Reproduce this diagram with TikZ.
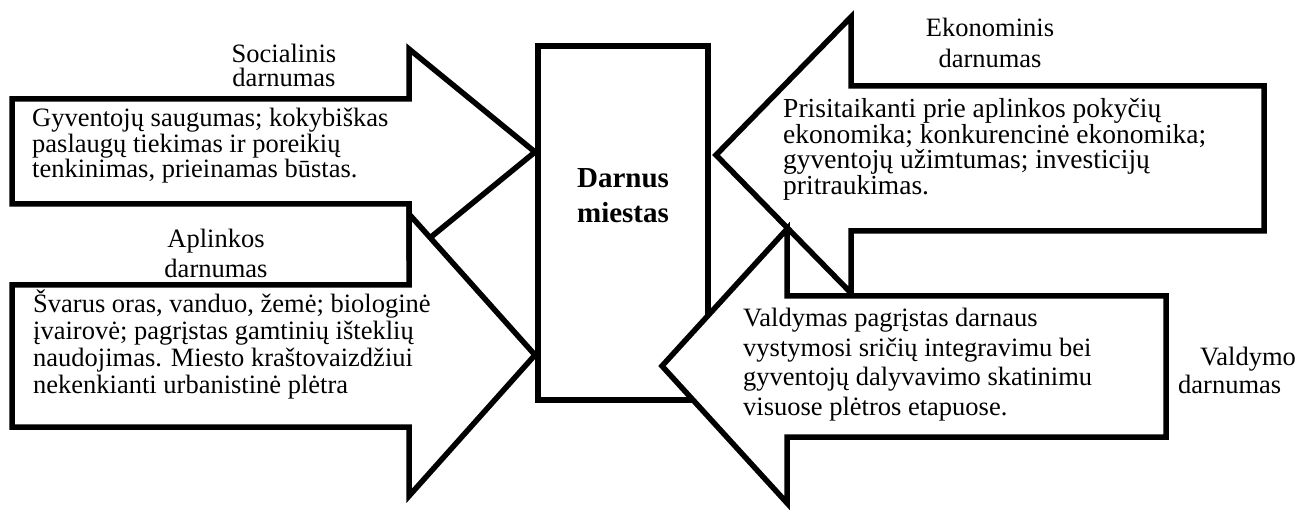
\documentclass[tikz,border=0pt]{standalone}
\usepackage{fontspec}
\setmainfont{Liberation Serif}
\newcommand\txtsize[1]{\fontsize{26.5}{#1}\selectfont}
\tikzset{
  outline/.style={draw=black, fill=white, line width=5.5pt, line join=miter},
  % multi-line texts are placed by the baseline of their last line
  bodytext/.style={anchor=base west, align=left, inner sep=0pt},
  headtext/.style={anchor=base, align=center, inner sep=0pt},
}
\begin{document}
\begin{tikzpicture}[x=1pt, y=-1pt]
\useasboundingbox (0,0) rectangle (1298,510);

% central box
\draw[outline] (538,46) rectangle (708,400);

% social sustainability arrow (pointing right)
\draw[outline] (12,99) -- (409,99) -- (409,49) -- (535,152) -- (409,255)
  -- (409,204) -- (12,204) -- cycle;
% environmental sustainability arrow (pointing right)
\draw[outline] (12,285) -- (409,285) -- (409,214) -- (535,355) -- (409,496)
  -- (409,427) -- (12,427) -- cycle;
% economic sustainability arrow (pointing left)
\draw[outline] (1264,86) -- (851,86) -- (851,17) -- (716,155) -- (851,293)
  -- (851,231) -- (1264,231) -- cycle;
% governance sustainability arrow (pointing left)
\draw[outline] (1166,296) -- (787,296) -- (787,229) -- (662,366) -- (787,503)
  -- (787,437) -- (1166,437) -- cycle;

% centre label
\node[headtext, font=\fontsize{29}{35}\selectfont\bfseries] (city) at (623,223)
  {Darnus\\miestas};

% titles
\node[headtext, font=\txtsize{24}] (soctitle) at (284,87) {Socialinis\\darnumas};
\node[headtext, font=\txtsize{30}] (envtitle) at (216,278) {Aplinkos\\darnumas};
\node[headtext, font=\txtsize{31}] (ecotitle) at (990,68) {Ekonominis\\darnumas};
\node[bodytext, font=\txtsize{28}] (govtitle) at (1178,393)
  {\hspace*{22pt}Valdymo\\darnumas};

% descriptions
\node[bodytext, font=\txtsize{25.5}] (soctext) at (32,178)
  {Gyventojų saugumas; kokybiškas\\paslaugų tiekimas ir poreikių\\tenkinimas, prieinamas būstas.};
\node[bodytext, font=\txtsize{26.7}] (envtext) at (33,393)
  {Švarus oras, vanduo, žemė; biologinė\\įvairovė; pagrįstas gamtinių išteklių\\naudojimas. Miesto kraštovaizdžiui\\nekenkianti urbanistinė plėtra};
\node[bodytext, font=\fontsize{27.5}{25.5}\selectfont] (ecotext) at (783,194.5)
  {Prisitaikanti prie aplinkos pokyčių\\ekonomika; konkurencinė ekonomika;\\gyventojų užimtumas; investicijų\\pritraukimas.};
\node[bodytext, font=\txtsize{29.5}] (govtext) at (743,415)
  {Valdymas pagrįstas darnaus\\vystymosi sričių integravimu bei\\gyventojų dalyvavimo skatinimu\\visuose plėtros etapuose.};
\end{tikzpicture}
\end{document}
